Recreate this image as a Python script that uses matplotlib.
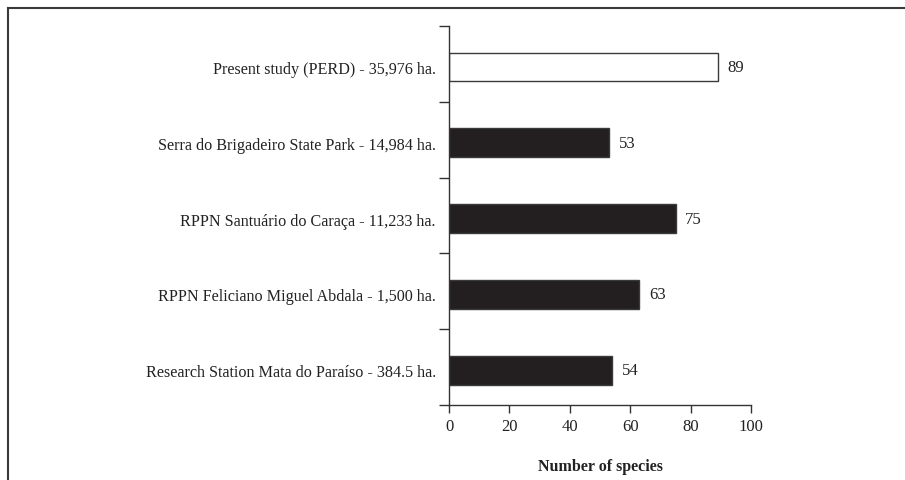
import matplotlib
matplotlib.use("Agg")
import matplotlib.pyplot as plt
from matplotlib.lines import Line2D

plt.rcParams['font.family'] = ['Liberation Serif', 'DejaVu Serif']

# data, listed top to bottom
sites = ["Present study (PERD) - 35,976 ha.",
         "Serra do Brigadeiro State Park - 14,984 ha.",
         "RPPN Santuário do Caraça - 11,233 ha.",
         "RPPN Feliciano Miguel Abdala - 1,500 ha.",
         "Research Station Mata do Paraíso - 384.5 ha."]
species = [89, 53, 75, 63, 54]
fills = ["white", "#231f20", "#231f20", "#231f20", "#231f20"]

fig = plt.figure(figsize=(9.05, 4.81), dpi=100)
ax = fig.add_axes([449/905, 1 - 406/481, (751 - 449)/905, (406 - 27)/481])

pos = list(range(len(sites)))[::-1]  # first site at the top
ax.barh(pos, species, height=0.38, color=fills, edgecolor="#3a3a3a", linewidth=1.0)

for p, v in zip(pos, species):
    ax.annotate(str(v), (v, p), xytext=(7, 0), textcoords="offset points",
                va="center", ha="left", fontsize=12, color="#222222")

# bars sit a little below the middle of each band in the original
off = 0.46
ax.set_xlim(0, 100)
ax.set_ylim(-off, len(sites) - off)
ax.set_xticks(range(0, 101, 20))

# tick marks between bars, labels at bar centres
ax.set_yticks([i - off for i in range(len(sites) + 1)])
ax.set_yticklabels([])
ax.set_yticks(pos, minor=True)
ax.set_yticklabels(sites, minor=True)
ax.tick_params(axis="y", which="minor", length=0, pad=9.5, labelsize=11.6, labelcolor="#222222")
ax.tick_params(axis="y", which="major", length=7, width=1, direction="out", color="#333333")
ax.tick_params(axis="x", length=6, width=1, direction="out", labelsize=12, labelcolor="#222222", color="#333333")

ax.spines["top"].set_visible(False)
ax.spines["right"].set_visible(False)
for s in ["left", "bottom"]:
    ax.spines[s].set_color("#333333")
    ax.spines[s].set_linewidth(1.0)

ax.set_xlabel("Number of species", fontsize=11.5, fontweight="bold", labelpad=17, color="#222222")

# outer frame, partly outside the image
fx = 7.5/905
fy = 1 - 9/481
fig.add_artist(Line2D([fx, fx], [0, fy], color="#3a3a3a", linewidth=1.5))
fig.add_artist(Line2D([fx, 1], [fy, fy], color="#3a3a3a", linewidth=1.5))

fig.savefig("out.png", dpi=100)
